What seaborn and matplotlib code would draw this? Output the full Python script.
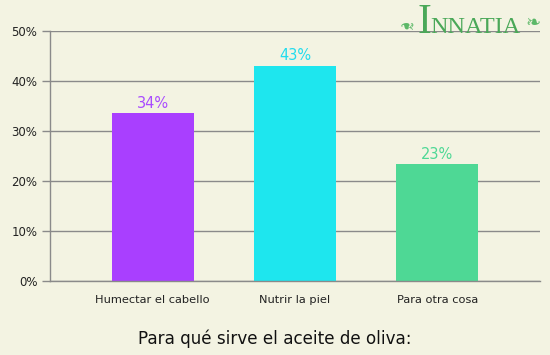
import pandas as pd
import matplotlib.pyplot as plt
import seaborn as sns

categorias = ["Humectar el cabello", "Nutrir la piel", "Para otra cosa"]
valores = [33.7, 43.1, 23.4]
etiquetas = ["34%", "43%", "23%"]
colores = ["#a93fff", "#1ee6ee", "#4ed895"]
colores_texto = ["#a94cff", "#22dcee", "#4ed895"]

fondo = "#f3f3e2"
gris = "#8a8a8a"

df = pd.DataFrame({"categoria": categorias, "valor": valores})

sns.set_style("white")
plt.rcParams["font.family"] = ["DejaVu Sans"]

fig = plt.figure(figsize=(5.5, 3.55), dpi=100, facecolor=fondo)
ax = fig.add_axes([50 / 550, 1 - 281 / 355, 490 / 550, 250 / 355])
ax.set_facecolor(fondo)

sns.barplot(
    data=df, x="categoria", y="valor", hue="categoria",
    palette=colores, width=0.575, legend=False, ax=ax,
    saturation=1, linewidth=0
)

for i, (v, t) in enumerate(zip(valores, etiquetas)):
    ax.text(i, v + 0.4, t, ha="center", va="bottom", fontsize=10.5, color=colores_texto[i])

ax.set_ylim(0, 50)
ax.set_xlim(-0.72, 2.72)
ax.set_yticks(range(0, 51, 10))
ax.set_yticklabels([f"{v}%" for v in range(0, 51, 10)], fontsize=8.5, color="#222222")
ax.yaxis.grid(True, color=gris, linewidth=1)
ax.set_axisbelow(True)

ax.set_xticks([0, 1, 2])
ax.set_xticklabels(categorias, fontsize=8.2, color="#222222")
ax.tick_params(axis="x", length=0, pad=10)
ax.set_xticks([-0.72, 0.41, 1.37], minor=True)
ax.tick_params(axis="x", which="minor", length=5, color=gris, width=1, direction="out")
ax.tick_params(axis="y", length=6, color=gris, width=1, direction="out", left=True, pad=3)

for s in ["top", "right"]:
    ax.spines[s].set_visible(False)
for s in ["left", "bottom"]:
    ax.spines[s].set_color(gris)
    ax.spines[s].set_linewidth(1)

ax.set_xlabel("")
ax.set_ylabel("")

fig.text(0.5, 1 - 339 / 355, "Para qué sirve el aceite de oliva:", ha="center", va="center",
         fontsize=12.1, color="#111111")

# logo
verde = "#4aa858"
fig.text(424 / 550, 1 - 33 / 355, "I", ha="center", va="baseline", fontsize=30,
         color=verde, family="Liberation Serif")
fig.text(430 / 550, 1 - 33 / 355, "NNATIA", ha="left", va="baseline", fontsize=17.5,
         color=verde, family="Liberation Serif")
fig.text(405 / 550, 1 - 23 / 355, "\u2767", ha="center", va="center", fontsize=13, color="#5cb868",
         rotation=180)
fig.text(533 / 550, 1 - 23 / 355, "\u2767", ha="center", va="center", fontsize=13, color="#5cb868")

fig.savefig("out.png", dpi=100, facecolor=fondo)
plt.close(fig)
